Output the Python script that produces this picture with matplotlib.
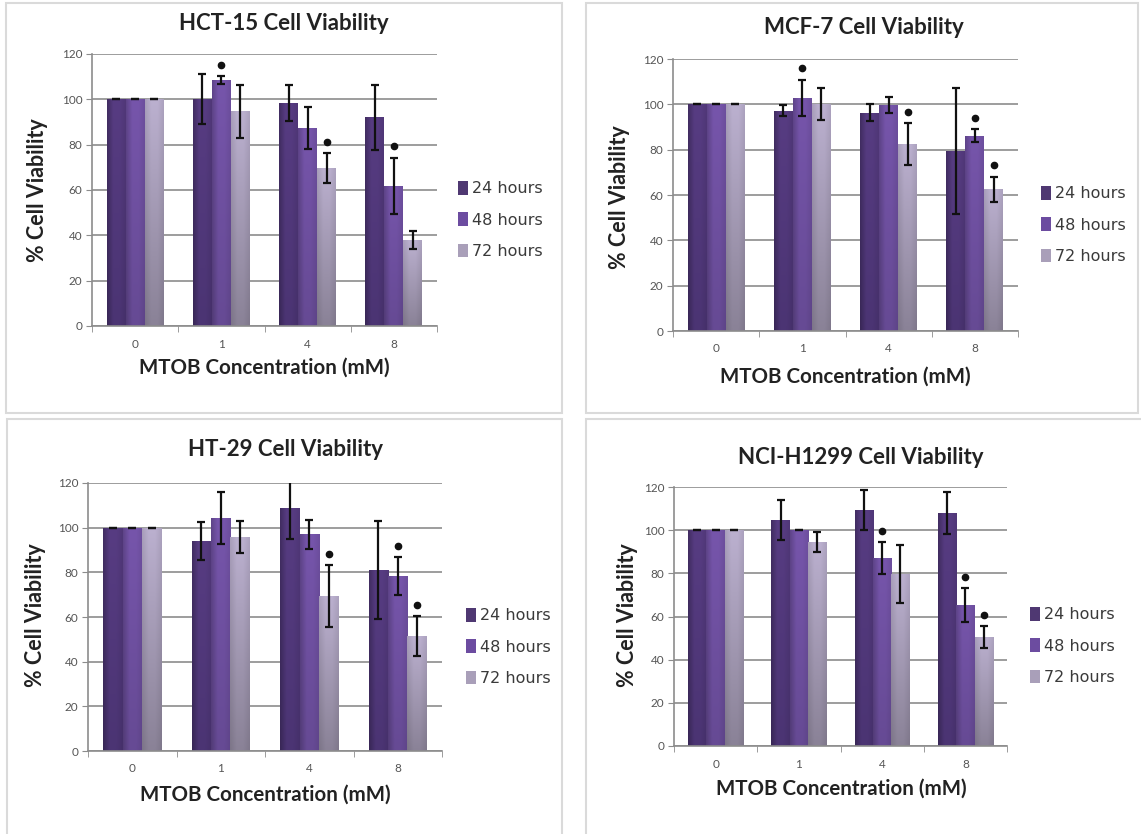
import numpy as np
import matplotlib
matplotlib.use('Agg')
from matplotlib import pyplot as plt
from matplotlib.patches import Patch, Rectangle
from matplotlib.colors import to_rgb

categories = ['0', '1', '4', '8']
series = ['24 hours', '48 hours', '72 hours']

# HCT-15
hct15_mean = [[100, 100, 98.5, 92.0], [100, 108.5, 87.5, 61.8], [100, 94.8, 69.8, 37.9]]
hct15_err = [[0, 11, 7.9, 14.3], [0, 1.6, 9.2, 12.4], [0, 11.7, 6.5, 4.1]]
hct15_star = [(1, 1), (2, 2), (3, 1)]

# MCF-7
mcf7_mean = [[100, 97.2, 96.3, 79.4], [100, 102.9, 99.7, 86.2], [100, 100, 82.5, 62.5]]
mcf7_err = [[0, 2.3, 3.7, 28], [0, 8, 3.7, 2.7], [0, 7, 9.3, 5.6]]
mcf7_star = [(1, 1), (2, 2), (3, 1), (3, 2)]

# HT-29
ht29_mean = [[100, 94.0, 109.0, 81.2], [100, 104.3, 97.0, 78.4], [100, 95.8, 69.3, 51.4]]
ht29_err = [[0, 8.5, 14, 22], [0, 11.7, 6.5, 8.4], [0, 7, 14, 9]]
ht29_star = [(2, 2), (3, 1), (3, 2)]

# NCI-H1299
nci_mean = [[100, 104.6, 109.2, 108.1], [100, 100, 87.1, 65.2], [100, 94.5, 79.6, 50.6]]
nci_err = [[0, 9.2, 9.2, 9.7], [0, 0, 7.6, 7.9], [0, 4.6, 13.5, 5.1]]
nci_star = [(2, 1), (3, 1), (3, 2)]

W, H = 1141, 834
plt.rcParams['font.family'] = ['Lato', 'DejaVu Sans']

# bar colours: (top, bottom, left-edge darkening)
bar_cols = [('#573c82', '#4b3473', 0.25), ('#7655ab', '#664a94', 0.2), ('#bbb0cf', '#8a8297', 0.1)]
legend_cols = ['#4f3872', '#6c4ca0', '#a99fb9']

# panel layout in pixels: axes box (left, top, right, bottom), title, xlabel, ylabel, legend centre, border
panels = [
    dict(name='HCT-15 Cell Viability', mean=hct15_mean, err=hct15_err, star=hct15_star,
         box=(92, 54, 437, 326), title=(284, 23), xlab=(264, 368), ylab=(38, 190), leg=(458, 220),
         border=(6, 3, 562, 413)),
    dict(name='MCF-7 Cell Viability', mean=mcf7_mean, err=mcf7_err, star=mcf7_star,
         box=(673, 59, 1018, 331), title=(864, 27), xlab=(845, 377), ylab=(619, 197), leg=(1041, 225),
         border=(586, 3, 1138, 413)),
    dict(name='HT-29 Cell Viability', mean=ht29_mean, err=ht29_err, star=ht29_star,
         box=(88, 483, 442, 751), title=(285, 450), xlab=(265, 795), ylab=(36, 615), leg=(466, 647),
         border=(7, 419, 562, 850)),
    dict(name='NCI-H1299 Cell Viability', mean=nci_mean, err=nci_err, star=nci_star,
         box=(674, 487, 1007, 746), title=(861, 458), xlab=(841, 789), ylab=(628, 615), leg=(1030, 646),
         border=(586, 419, 1150, 850)),
]


def fx(x):
    return x / W


def fy(y):
    return 1 - y / H


def gradient(top, bottom, edge):
    t = np.array(to_rgb(top))
    b = np.array(to_rgb(bottom))
    ys = np.linspace(0, 1, 64)[:, None, None]
    xs = np.linspace(0, 1, 32)[None, :, None]
    img = b + (t - b) * ys
    shade = 1 - edge * np.clip(1 - xs * 3, 0, 1) - 0.08 * np.clip(xs * 3 - 2, 0, 1)
    return np.clip(img * shade, 0, 1)


fig = plt.figure(figsize=(W / 100, H / 100), dpi=100)

for p in panels:
    bx0, by0, bx1, by1 = p['border']
    fig.patches.append(Rectangle((fx(bx0), fy(by1)), fx(bx1 - bx0), (by1 - by0) / H,
                                 transform=fig.transFigure, fill=False, edgecolor='#dadada', lw=1.5))

    l, t, r, b = p['box']
    ax = fig.add_axes([fx(l), fy(b), fx(r - l), (b - t) / H])
    x = np.arange(len(categories))
    w = 0.22
    for i, s in enumerate(series):
        pos = x + (i - 1) * w
        bars = ax.bar(pos, p['mean'][i], w, color='none', edgecolor='none', zorder=2)
        img = gradient(*bar_cols[i])
        for rect in bars:
            im = ax.imshow(img, extent=[rect.get_x(), rect.get_x() + w, 0, rect.get_height()],
                           origin='lower', aspect='auto', zorder=2, interpolation='bilinear')
            im.set_clip_path(rect)
        ax.errorbar(pos, p['mean'][i], yerr=p['err'][i], fmt='none', ecolor='#111111',
                    elinewidth=1.6, capsize=3, capthick=1.6, zorder=4)
    for c, i in p['star']:
        ax.plot(c + (i - 1) * w, p['mean'][i][c] + p['err'][i][c] + 5, marker='o',
                color='#111111', markersize=4.5, zorder=5)

    ax.set_xlim(-0.5, 3.5)
    ax.set_ylim(0, 120)
    ax.set_yticks(np.arange(0, 121, 20))
    ax.yaxis.grid(True, color='#8c8c8c', lw=1.2, zorder=0)
    ax.set_axisbelow(True)
    ax.set_xticks(x)
    ax.set_xticklabels(categories)
    ax.set_xticks(np.arange(-0.5, 4, 1), minor=True)
    ax.tick_params(axis='x', which='major', length=0, pad=9, labelsize=8.5, labelcolor='#555555')
    ax.tick_params(axis='x', which='minor', length=4, color='#8c8c8c', direction='out')
    ax.tick_params(axis='y', length=4, color='#8c8c8c', pad=3, labelsize=8.5, labelcolor='#555555')
    for sp in ['top', 'right']:
        ax.spines[sp].set_visible(False)
    for sp in ['left', 'bottom']:
        ax.spines[sp].set_color('#8c8c8c')
        ax.spines[sp].set_linewidth(1.2)

    fig.text(fx(p['title'][0]), fy(p['title'][1]), p['name'], ha='center', va='center',
             fontsize=16, fontweight='bold', color='#222222')
    fig.text(fx(p['xlab'][0]), fy(p['xlab'][1]), 'MTOB Concentration (mM)', ha='center', va='center',
             fontsize=14.8, fontweight='bold', color='#222222')
    fig.text(fx(p['ylab'][0]), fy(p['ylab'][1]), '% Cell Viability', ha='center', va='center',
             rotation=90, fontsize=15.5, fontweight='bold', color='#222222')

    handles = [Patch(facecolor=c, edgecolor='none') for c in legend_cols]
    fig.legend(handles, series, loc='center left', bbox_to_anchor=(fx(p['leg'][0]), fy(p['leg'][1])),
               bbox_transform=fig.transFigure, frameon=False, labelcolor='#3a3a3a',
               prop={'family': 'DejaVu Sans', 'size': 11.5},
               handlelength=0.6, handleheight=0.9, handletextpad=0.25, labelspacing=1.0,
               borderpad=0, borderaxespad=0)

fig.savefig('out.png', dpi=100)
